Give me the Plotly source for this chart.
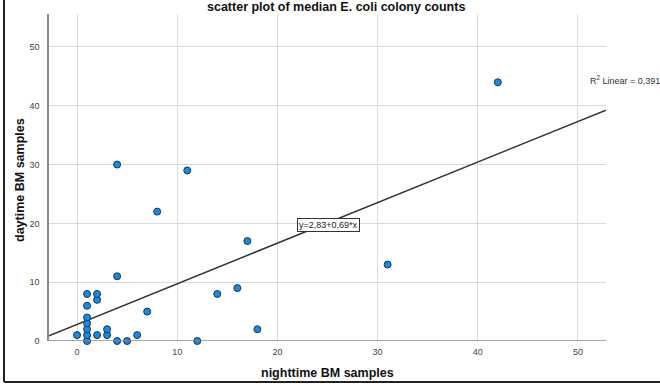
import plotly.graph_objects as go

# Data
night = [0, 1, 1, 1, 1, 1, 1, 1, 2, 2, 2, 3, 3, 4, 4, 4, 5, 6, 7, 8, 11, 12, 14, 16, 17, 18, 31, 42]
day = [1, 0, 1, 2, 3, 4, 6, 8, 1, 7, 8, 1, 2, 0, 11, 30, 0, 1, 5, 22, 29, 0, 8, 9, 17, 2, 13, 44]
intercept = 2.83
slope = 0.69
r2_label = "R<sup>2</sup> Linear = 0,391"
eq_label = "y=2,83+0,69*x"
tick_vals = [0, 10, 20, 30, 40, 50]
x_range = [-2.8, 52.8]
y_range = [0, 55.6]

W, H = 660, 389
L, R, T, B = 49, 54, 14, 48

def px(x):
    return (x - L) / (W - L - R)

def py(y):
    return (H - B - y) / (H - B - T)

fig = go.Figure()

line_x = x_range
line_y = [intercept + slope * v for v in line_x]
fig.add_trace(go.Scatter(x=line_x, y=line_y, mode="lines",
                         line=dict(color="#333333", width=1.5),
                         hoverinfo="skip", showlegend=False, cliponaxis=True))

fig.add_trace(go.Scatter(x=night, y=day, mode="markers",
                         marker=dict(size=7, color="#1C89DD",
                                     line=dict(color="#1B3550", width=1)),
                         showlegend=False, cliponaxis=False))

font_family = "Liberation Sans, Arial, sans-serif"

fig.update_layout(
    width=W, height=H,
    margin=dict(l=L, r=R, t=T, b=B, pad=0, autoexpand=False),
    paper_bgcolor="white", plot_bgcolor="white",
    font=dict(family=font_family, size=9, color="#444444"),
    showlegend=False,
    xaxis=dict(range=x_range, tickvals=tick_vals, showgrid=True,
               gridcolor="#DADADA", gridwidth=1, zeroline=False,
               showline=False, ticks="", ticklabelstandoff=4,
               automargin=False,
               tickfont=dict(size=9, color="#444444")),
    yaxis=dict(range=y_range, tickvals=tick_vals, showgrid=True,
               gridcolor="#DADADA", gridwidth=1, zeroline=False,
               showline=True, linecolor="#8A8A8A", linewidth=1.5,
               ticks="", ticklabelstandoff=6, automargin=False,
               tickfont=dict(size=9, color="#444444")),
)

# x axis line at y=0
fig.add_shape(type="line", xref="paper", yref="y", x0=0, x1=1, y0=0, y1=0,
              line=dict(color="#8A8A8A", width=1.5))

# outer frame (left and bottom)
fig.add_shape(type="line", xref="paper", yref="paper",
              x0=px(4), x1=px(4), y0=py(-5), y1=py(382),
              line=dict(color="#222222", width=2))
fig.add_shape(type="line", xref="paper", yref="paper",
              x0=px(4), x1=px(665), y0=py(382), y1=py(382),
              line=dict(color="#222222", width=2))

fig.add_annotation(text="<b>scatter plot of median E. coli colony counts</b>",
                   xref="paper", yref="paper", x=px(336), y=py(7),
                   xanchor="center", yanchor="middle",
                   showarrow=False, font=dict(size=12.5, color="#111111"))
fig.add_annotation(text="<b>nighttime BM samples</b>",
                   xref="paper", yref="paper", x=px(327), y=py(373),
                   xanchor="center", yanchor="middle",
                   showarrow=False, font=dict(size=12.5, color="#111111"))
fig.add_annotation(text="<b>daytime BM samples</b>", textangle=-90,
                   xref="paper", yref="paper", x=px(20), y=py(180),
                   xanchor="center", yanchor="middle",
                   showarrow=False, font=dict(size=12.5, color="#111111"))
fig.add_annotation(text=r2_label, xref="paper", yref="paper",
                   x=px(588), y=py(80), xanchor="left", yanchor="middle",
                   showarrow=False, font=dict(size=9, color="#333333"))
fig.add_annotation(text=eq_label, x=25.1, y=19.8, xref="x", yref="y",
                   xanchor="center", yanchor="middle",
                   showarrow=False, bgcolor="white", bordercolor="#333333",
                   borderwidth=1, borderpad=1,
                   font=dict(size=9, color="#222222"))

fig.write_html("out.html", config={"displayModeBar": False},
               post_script="document.body.style.margin='0';document.body.style.padding='0';")
